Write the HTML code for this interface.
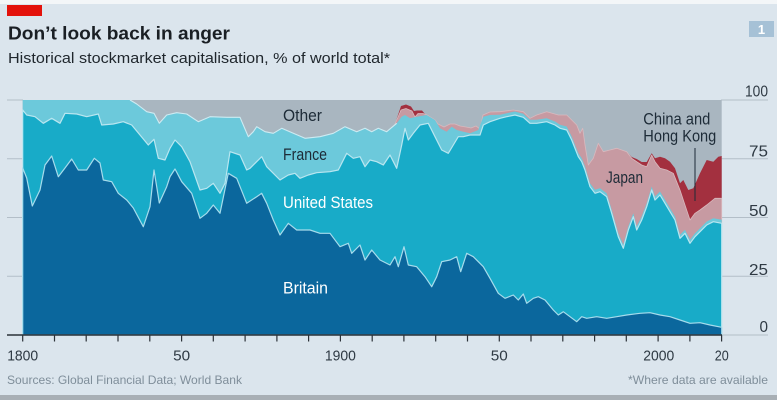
<!DOCTYPE html>
<html>
<head>
<meta charset="utf-8">
<style>
html,body{margin:0;padding:0;background:#dbe5ed;}
svg{display:block;}
text{font-family:"Liberation Sans",Arial,sans-serif;}
</style>
</head>
<body>
<svg width="777" height="400" viewBox="0 0 777 400" xmlns="http://www.w3.org/2000/svg">
  <!-- background -->
  <rect x="0" y="0" width="777" height="400" fill="#dbe5ed"/>
  <rect x="0" y="0" width="777" height="4" fill="#f3f6f8"/>
  <rect x="0" y="395" width="777" height="5" fill="#a8afb5"/>

  <!-- red tag -->
  <rect x="7" y="5" width="35" height="11" fill="#e3120b"/>

  <!-- title & subtitle -->
  <text x="8" y="39.5" font-size="18" font-weight="bold" fill="#1a1f24" textLength="222" lengthAdjust="spacingAndGlyphs">Don’t look back in anger</text>
  <text x="8" y="63" font-size="15" fill="#1f262c" textLength="382" lengthAdjust="spacingAndGlyphs">Historical stockmarket capitalisation, % of world total*</text>

  <!-- chart number box -->
  <rect x="749" y="21" width="25" height="16" fill="#a6c1d6"/>
  <text x="761.5" y="34" font-size="13" font-weight="bold" fill="#ffffff" text-anchor="middle">1</text>

  <!-- gridlines -->
  <g stroke="#b3bec8" stroke-width="1">
    <line x1="7" y1="100" x2="23" y2="100"/>
    <line x1="7" y1="158.75" x2="23" y2="158.75"/>
    <line x1="7" y1="217.5" x2="23" y2="217.5"/>
    <line x1="7" y1="276.25" x2="23" y2="276.25"/>
    <line x1="721" y1="100" x2="768" y2="100"/>
    <line x1="721" y1="158.75" x2="768" y2="158.75"/>
    <line x1="721" y1="217.5" x2="768" y2="217.5"/>
    <line x1="721" y1="276.25" x2="768" y2="276.25"/>
    <line x1="721" y1="335" x2="768" y2="335"/>
  </g>

  <!-- Other (gray) -->
  <rect x="22.7" y="100" width="699" height="235" fill="#a9b6c0"/>

  <!-- China and Hong Kong (red) -->
  <polygon fill="#a3303f" points="395,335 395,124 401,106 406,104.5 411,106.5 414,111 417,110.5 422,110.5 425,114 435,120 438,124 444,127 450,124 455,124 460,126 466,127 471,128 476,126 480,129 483,115 490,112 500,111.7 513.3,110 523.3,111.7 530,118.3 536.7,115 546.7,111.7 558.3,115 566.7,115 571.7,120 576.7,125 580,133.3 582.7,128.3 585,145 588.3,165 593.3,158.3 598.3,143.3 603.3,151.7 610,150 616.7,148.3 626.7,151.7 631.7,157 636.7,159 641.7,162 646.7,162 651.7,153.3 655,158.3 660,156.7 665,158.3 670,161.7 675,168.3 680,183.3 683.3,180 688.3,190 693.3,188.3 700,173.3 706.7,160 713.3,161.7 718.3,156.7 721.7,156 721.7,335"/>

  <!-- Japan (pink) -->
  <polygon fill="#c79aa2" stroke="#d9b9be" stroke-width="0.8" stroke-linejoin="round" points="395,335 395,124 401,110 406,108.5 412,111 415,117 418,113.5 423,113.5 427,115 435,120 438,124 444,127 450,124 455,124 460,126 466,127 471,128 476,126 480,129 483,115 490,112 500,111.7 513.3,110 523.3,111.7 530,118.3 536.7,115 546.7,111.7 558.3,115 566.7,115 571.7,120 576.7,125 580,133.3 582.7,128.3 585,145 588.3,165 593.3,158.3 598.3,143.3 603.3,151.7 610,150 616.7,148.3 626.7,151.7 631.7,158.3 636.7,161.7 641.7,165 646.7,166.7 651.7,155 655,161.7 660,168.3 666.7,170 673.3,173.3 680,190 683.3,200 690,220 695,213.3 700,210 706.7,205 715,198.3 721.7,198.3 721.7,335"/>

  <!-- France (light cyan) -->
  <polygon fill="#6cc9db" points="22.7,335 22.7,100 130,100 136.7,104 146.7,111.7 154,113.3 159.3,123.3 166.7,115 176.7,112.7 186.7,114 198.3,121.7 210,116.7 226.7,117.3 240,117.3 248.3,136.7 253.3,131.7 256.7,126.7 265,131.7 273.3,133.3 281.7,128.3 293.3,133.3 305,138.3 320,136.7 333.3,133.3 345,126.7 356.7,131.7 365,128.3 371.7,131.7 378.3,128.3 386.7,131.7 396.7,123.3 401.7,116.7 405,115 410,118.3 416.7,116.7 426.7,115 435,120 440,128.3 446.7,131.7 451.7,126.7 456.7,130 463.3,131.7 470,133.3 478.3,130 483.3,116.7 490,115 500,114.8 506.7,113.2 515,111.5 523.3,113.8 530,119.8 536.7,119.8 546.7,118.2 555,121.5 560,124.8 566.7,126.5 571.7,136.5 578.3,153.2 581.7,158.2 585,166.5 590,183.2 595,189.8 600,188.2 606.7,193.2 611.7,209.8 618.3,233.2 623.3,244.8 628.3,226.5 633.3,213.2 636.7,226.5 641.7,216.5 646.7,203.2 651.7,186.5 655,196.5 660,191.5 665,199.8 670,208.2 675,216.5 680,234.8 685,229.8 690,239.8 695,233.2 700,228.2 706.7,221.5 713.3,218.2 721.7,219.8 721.7,335"/>
  <polyline fill="none" stroke="#cdebf2" stroke-width="1.1" stroke-linejoin="round" points="130,100 136.7,104 146.7,111.7 154,113.3 159.3,123.3 166.7,115 176.7,112.7 186.7,114 198.3,121.7 210,116.7 226.7,117.3 240,117.3 248.3,136.7 253.3,131.7 256.7,126.7 265,131.7 273.3,133.3 281.7,128.3 293.3,133.3 305,138.3 320,136.7 333.3,133.3 345,126.7 356.7,131.7 365,128.3 371.7,131.7 378.3,128.3 386.7,131.7 396.7,123.3"/>

  <!-- United States (teal) -->
  <polygon fill="#18abc8" stroke="#b9e6f0" stroke-width="1.2" stroke-linejoin="round" points="22.7,335 22.7,110 26.7,115 35,116.7 43.3,123.3 51.7,118.3 60,123.3 65,113.3 76.7,114 86.7,116.7 98.3,114 101.7,125 113.3,124 123.3,121.7 131.7,125 140,135 148.3,145 154,139.3 158.3,158.3 165,160 170,148.3 175,140 181.7,146.7 190,161.7 200,190 206.7,188.3 213.3,183.3 220,193.3 225,183.3 230,151.7 240,155 246.7,170 250,168.3 255,163.3 261.7,156.7 266.7,166.7 271.7,171.7 280,180 288.3,175 295,173.3 300,178.3 308.3,175 316.7,172.7 330,171.7 338.3,170 346.7,153.3 353.3,158.3 360,156.7 365,166.7 370,160 376.7,161.7 383.3,165 390,155 396.7,168.3 401.7,145 405,128.3 408.3,140 413.3,133.3 420,125 428.3,123.3 435,136.7 441.7,150 448.3,153.3 453.3,145 458.3,136.7 463.3,136.7 470,135 480,135 483.3,125 490,121.7 500,118.3 506.7,116.7 515,115 523.3,117.3 530,123.3 536.7,123.3 546.7,121.7 555,125 560,128.3 566.7,130 571.7,140 578.3,156.7 581.7,161.7 585,170 590,186.7 595,193.3 600,191.7 606.7,196.7 611.7,213.3 618.3,236.7 623.3,248.3 628.3,230 633.3,216.7 636.7,230 641.7,220 646.7,206.7 651.7,190 655,200 660,195 665,203.3 670,211.7 675,220 680,238.3 685,233.3 690,243.3 695,236.7 700,231.7 706.7,225 713.3,221.7 721.7,223.3 721.7,335"/>

  <!-- Britain (dark blue) -->
  <polygon fill="#0b679d" stroke="#a6dcec" stroke-width="1.2" stroke-linejoin="round" points="22.7,335 22.7,168 26.7,178 32.3,206 40,190 45,165 51.7,156 58.3,176.7 65,168 71.7,159 78.3,170 86.7,170 94.3,158.3 100,163 103.3,180 111.7,181.7 118.3,193.3 126.7,200 133.3,208 143.3,226.7 150,206.7 154,170 156.7,186.7 159.3,203 166.7,186.7 170,176.7 175,169 181.7,181.7 191.7,193.3 200,218.3 206.7,213.3 213.3,205 220,213.3 228.3,173.3 236.7,178.3 246.7,203.3 256.7,196.7 261.7,193.3 266.7,203.3 273.3,220 280,235 288.3,223.3 296.7,230 310,230 320,233.3 330,233.3 340,246.7 348.3,243.3 351.7,253.3 360,245 365,260 371.7,250 380,260 390,265 395,256.7 398.3,266.7 404,246.7 408.3,265 416.7,266.7 425,276.7 431.7,286.7 436.7,276.7 441.7,261.7 450,260 456.7,256.7 460.7,271.7 466.7,253.3 473.3,256.7 483.3,266.7 490,278.3 498.3,293.3 505,298.3 513.3,295 518.3,300 523.3,294 526.7,303.3 533.3,298.3 538.3,296.7 545,300 553.3,310 558.3,315 563.3,311.7 570,316.7 576.7,321.7 581.7,316.7 586.7,318.3 596.7,316.7 606.7,318.3 616.7,316.7 626.7,315 640,313.3 650,312.7 660,315 670,316.7 680,320 690,323.3 700,322.7 710,325 721.7,327.3 721.7,335"/>

  <!-- axis line & ticks -->
  <line x1="7" y1="335" x2="722" y2="335" stroke="#2b3138" stroke-width="1.5"/>
  <path stroke="#2b3138" stroke-width="1.2" fill="none" d="M22.7 335V341.5 M54.5 335V341.5 M86.2 335V341.5 M118 335V341.5 M149.8 335V341.5 M181.6 335V341.5 M213.3 335V341.5 M245.1 335V341.5 M276.9 335V341.5 M308.6 335V341.5 M340.4 335V341.5 M372.2 335V341.5 M403.9 335V341.5 M435.7 335V341.5 M467.5 335V341.5 M499.3 335V341.5 M531 335V341.5 M562.8 335V341.5 M594.6 335V341.5 M626.3 335V341.5 M658.1 335V341.5 M689.9 335V341.5 M721.6 335V341.5"/>

  <!-- x labels -->
  <g font-size="15" fill="#2f3a44" text-anchor="middle">
    <text x="22.7" y="360.5" textLength="31" lengthAdjust="spacingAndGlyphs">1800</text>
    <text x="181.6" y="360.5" textLength="17" lengthAdjust="spacingAndGlyphs">50</text>
    <text x="340.4" y="360.5" textLength="31" lengthAdjust="spacingAndGlyphs">1900</text>
    <text x="499.3" y="360.5" textLength="17" lengthAdjust="spacingAndGlyphs">50</text>
    <text x="658.8" y="360.5" textLength="31" lengthAdjust="spacingAndGlyphs">2000</text>
    <text x="721.7" y="360.5" textLength="14" lengthAdjust="spacingAndGlyphs">20</text>
  </g>

  <!-- y labels -->
  <g font-size="16" fill="#2f3a44" text-anchor="end">
    <text x="768" y="96.5" textLength="23" lengthAdjust="spacingAndGlyphs">100</text>
    <text x="768" y="156.5" textLength="19" lengthAdjust="spacingAndGlyphs">75</text>
    <text x="768" y="216" textLength="19" lengthAdjust="spacingAndGlyphs">50</text>
    <text x="768" y="275" textLength="19" lengthAdjust="spacingAndGlyphs">25</text>
    <text x="768" y="332" textLength="8.5" lengthAdjust="spacingAndGlyphs">0</text>
  </g>

  <!-- series labels -->
  <g font-size="16.5">
    <text x="283" y="121" fill="#1d2b37" textLength="39" lengthAdjust="spacingAndGlyphs">Other</text>
    <text x="283" y="160" fill="#1d2b37" textLength="44" lengthAdjust="spacingAndGlyphs">France</text>
    <text x="283" y="208" fill="#ffffff" textLength="90" lengthAdjust="spacingAndGlyphs">United States</text>
    <text x="283" y="293.3" fill="#ffffff" textLength="45" lengthAdjust="spacingAndGlyphs">Britain</text>
    <text x="606" y="183" fill="#1d2b37" textLength="37" lengthAdjust="spacingAndGlyphs">Japan</text>
    <text x="643.3" y="124.5" fill="#1d2b37" textLength="67" lengthAdjust="spacingAndGlyphs">China and</text>
    <text x="643.3" y="141.5" fill="#1d2b37" textLength="73" lengthAdjust="spacingAndGlyphs">Hong Kong</text>
  </g>
  <line x1="695" y1="148" x2="695" y2="201" stroke="#1d2b37" stroke-width="1"/>

  <!-- footer -->
  <text x="7" y="384" font-size="12" fill="#7f8e9a" textLength="235" lengthAdjust="spacingAndGlyphs">Sources: Global Financial Data; World Bank</text>
  <text x="768" y="384" font-size="12" fill="#7f8e9a" text-anchor="end" textLength="140" lengthAdjust="spacingAndGlyphs">*Where data are available</text>
</svg>
</body>
</html>
